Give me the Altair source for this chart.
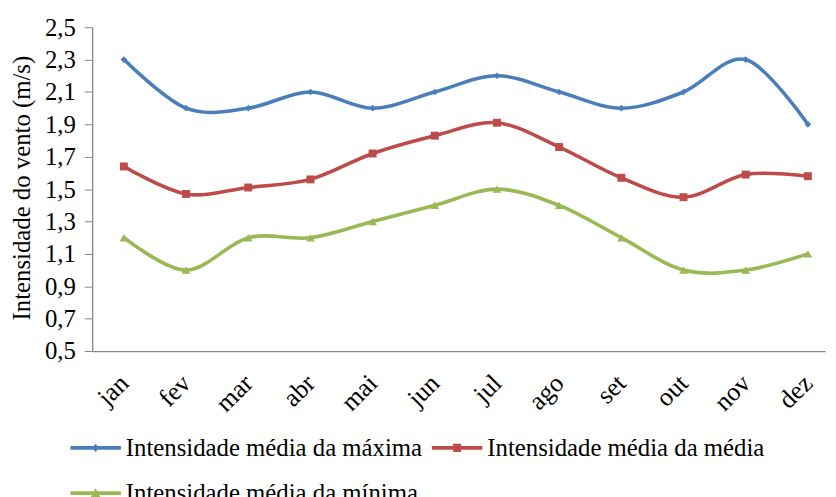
import altair as alt
import pandas as pd

months = ["jan", "fev", "mar", "abr", "mai", "jun", "jul", "ago", "set", "out", "nov", "dez"]
maxima = [2.3, 2.0, 2.0, 2.1, 2.0, 2.1, 2.2, 2.1, 2.0, 2.1, 2.3, 1.9]
media = [1.64, 1.47, 1.51, 1.56, 1.72, 1.83, 1.91, 1.76, 1.57, 1.45, 1.59, 1.58]
minima = [1.2, 1.0, 1.2, 1.2, 1.3, 1.4, 1.5, 1.4, 1.2, 1.0, 1.0, 1.1]

series_names = ["Intensidade média da máxima", "Intensidade média da média", "Intensidade média da mínima"]
series_values = [maxima, media, minima]
colors = ["#4A7EBB", "#BE4B48", "#98B954"]
marker_shapes = ["diamond", "square", "triangle-up"]
marker_sizes = [45, 64, 75]
y_ticks = [0.5, 0.7, 0.9, 1.1, 1.3, 1.5, 1.7, 1.9, 2.1, 2.3, 2.5]

# legend symbols: line segment with the marker in the middle (unit square coords)
bar = "M-1,-0.075 L1,-0.075 L1,0.075 L-1,0.075 Z"
legend_paths = [
    bar + " M0,-0.16 L0.14,0 L0,0.16 L-0.14,0 Z",
    bar + " M-0.16,-0.16 L0.16,-0.16 L0.16,0.16 L-0.16,0.16 Z",
    bar + " M0,-0.19 L0.19,0.15 L-0.19,0.15 Z",
]

rows = []
for name, vals in zip(series_names, series_values):
    for m, v in zip(months, vals):
        rows.append({"mes": m, "valor": v, "serie": name})
df = pd.DataFrame(rows)

FONT = "Liberation Serif"

x_enc = alt.X(
    "mes:O",
    sort=months,
    scale=alt.Scale(type="point", domain=months, padding=0.393, align=0.649),
    axis=alt.Axis(
        title=None, labelAngle=-45, labelAlign="right", labelBaseline="middle",
        ticks=False, labelPadding=28, labelFontSize=26, labelFont=FONT,
        labelColor="black", domainColor="#868686", domainWidth=1.3, grid=False,
    ),
)
y_enc = alt.Y(
    "valor:Q",
    scale=alt.Scale(domain=[0.5, 2.5], nice=False, zero=False),
    axis=alt.Axis(
        values=y_ticks, labelExpr="replace(format(datum.value, '.1f'), '.', ',')",
        title="Intensidade do vento (m/s)", titleFont=FONT, titleFontSize=25,
        titleFontWeight="normal", titleColor="black", titleX=-63, titleY=162,
        titleAngle=-90, titleAlign="center", titleBaseline="alphabetic",
        labelFont=FONT, labelFontSize=25, labelColor="black", labelPadding=9,
        tickSize=8, tickColor="#868686", domainColor="#868686", domainWidth=1.3,
        grid=False,
    ),
)

base = alt.Chart(df)

layers = []
for name, col in zip(series_names, colors):
    layers.append(
        base.mark_line(interpolate="cardinal", strokeWidth=3.6, color=col)
        .transform_filter(alt.datum.serie == name)
        .encode(x=x_enc, y=y_enc)
    )
for name, col, shp, sz in zip(series_names, colors, marker_shapes, marker_sizes):
    layers.append(
        base.mark_point(shape=shp, filled=True, size=sz, color=col, opacity=1)
        .transform_filter(alt.datum.serie == name)
        .encode(x=x_enc, y=y_enc)
    )

leg = alt.Legend(
    title=None, orient="none", legendX=-22, legendY=399, columns=2,
    direction="horizontal",
    columnPadding=9, rowPadding=7, symbolSize=2601, symbolStrokeWidth=0,
    labelFont=FONT, labelFontSize=25, labelColor="black", labelOffset=5,
    padding=0, labelLimit=0, symbolOpacity=1,
)
legend_layer = base.mark_point(filled=True).transform_filter("false").encode(
    x=x_enc, y=y_enc,
    color=alt.Color("serie:N", scale=alt.Scale(domain=series_names, range=colors), legend=leg),
    shape=alt.Shape("serie:N", scale=alt.Scale(domain=series_names, range=legend_paths), legend=leg),
)
layers.append(legend_layer)

chart = alt.layer(*layers).properties(
    width=740, height=327,
    padding={"left": 85, "top": 17, "right": 3, "bottom": 145},
    autosize=alt.AutoSizeParams(type="none"),
).configure(font=FONT).configure_view(stroke=None)

chart.save("out.html", embed_options={"renderer": "svg", "actions": False})
